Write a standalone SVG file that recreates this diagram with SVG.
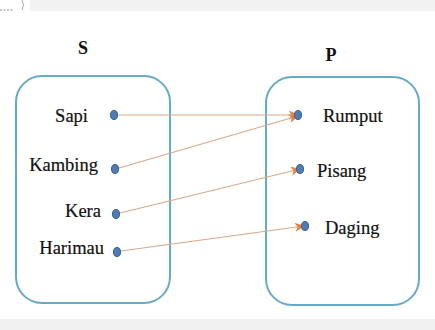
<svg xmlns="http://www.w3.org/2000/svg" width="435" height="330" viewBox="0 0 435 330">
<defs>
<style>
.box{fill:none;stroke:#66aac6;stroke-width:2}
.lbl{font-family:"Liberation Serif","Times New Roman",serif;font-size:18.5px;fill:#111;stroke:#111;stroke-width:0.2}
.ttl{font-family:"Liberation Serif","Times New Roman",serif;font-size:18px;font-weight:bold;fill:#111}
.dot{fill:#4f7db3;stroke:#35618f;stroke-width:1}
.edge{fill:none;stroke:#d9a988;stroke-width:1.1}
</style>
<marker id="ah" markerUnits="userSpaceOnUse" markerWidth="12" markerHeight="10" refX="9" refY="4.5" orient="auto">
<path d="M0,0 L10,4.5 L0,9 L2.5,4.5 Z" fill="#e8813c"/>
</marker>
</defs>
<rect width="435" height="330" fill="#ffffff"/>
<rect x="30" y="0" width="405" height="11" fill="#f2f2f2"/>
<path d="M22,0 Q25,5 22,10" fill="none" stroke="#9ab" stroke-width="1"/>
<path d="M0,10 L14,10" fill="none" stroke="#888" stroke-width="1" stroke-dasharray="2,1.5"/>
<rect x="0" y="319" width="435" height="11" fill="#f0f0f0"/>
<g id="set-S">
<rect class="box" x="16" y="76" width="154" height="227" rx="26"/>
<text class="ttl" x="83" y="54" text-anchor="middle">S</text>
</g>
<g id="set-P">
<rect class="box" x="266" y="77" width="153" height="228" rx="26"/>
<text class="ttl" x="331" y="61" text-anchor="middle">P</text>
</g>
<g id="connectors">
<line class="edge" x1="118" y1="115" x2="298" y2="115" marker-end="url(#ah)"/>
<line class="edge" x1="119" y1="168" x2="298" y2="116" marker-end="url(#ah)"/>
<line class="edge" x1="120" y1="213" x2="300" y2="169" marker-end="url(#ah)"/>
<line class="edge" x1="121" y1="251" x2="304" y2="226" marker-end="url(#ah)"/>
</g>
<g id="node-sapi"><text class="lbl" x="88" y="122" text-anchor="end">Sapi</text><ellipse class="dot" cx="114" cy="115" rx="3.5" ry="4.5"/></g>
<g id="node-kambing"><text class="lbl" x="98" y="171" text-anchor="end">Kambing</text><ellipse class="dot" cx="115" cy="169" rx="3.5" ry="4.5"/></g>
<g id="node-kera"><text class="lbl" x="101" y="217" text-anchor="end">Kera</text><ellipse class="dot" cx="116" cy="214" rx="3.5" ry="4.5"/></g>
<g id="node-harimau"><text class="lbl" x="104" y="254" text-anchor="end">Harimau</text><ellipse class="dot" cx="117" cy="252" rx="3.5" ry="4.5"/></g>
<g id="node-rumput"><ellipse class="dot" cx="298" cy="115" rx="3.5" ry="4.5"/><text class="lbl" x="323" y="122">Rumput</text></g>
<g id="node-pisang"><ellipse class="dot" cx="300" cy="169" rx="3.5" ry="4.5"/><text class="lbl" x="317" y="177">Pisang</text></g>
<g id="node-daging"><ellipse class="dot" cx="305" cy="226" rx="3.5" ry="4.5"/><text class="lbl" x="325" y="234">Daging</text></g>
</svg>
